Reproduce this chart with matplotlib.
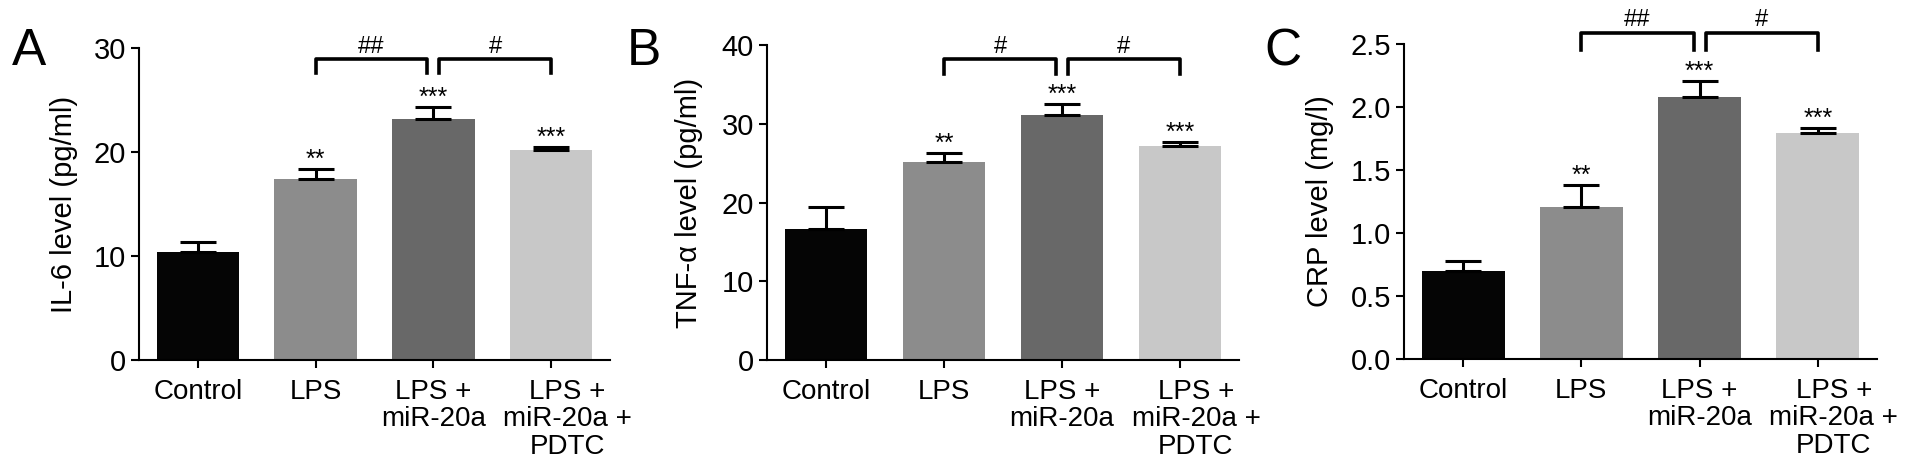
import matplotlib.pyplot as plt
import matplotlib.transforms as mtransforms
import numpy as np

plt.rcParams['font.family'] = ['Liberation Sans', 'DejaVu Sans']

groups = ['Control', 'LPS', 'LPS +\nmiR-20a', 'LPS +\nmiR-20a +\nPDTC']
bar_colors = ['#050505', '#8c8c8c', '#686868', '#c8c8c8']

il6_mean = [10.4, 17.4, 23.2, 20.2]
il6_err = [0.9, 1.0, 1.1, 0.3]
tnf_mean = [16.6, 25.1, 31.1, 27.2]
tnf_err = [2.8, 1.2, 1.4, 0.5]
crp_mean = [0.70, 1.21, 2.08, 1.79]
crp_err = [0.08, 0.17, 0.13, 0.04]

stars = ['', '**', '***', '***']
il6_hash = ['##', '#']
tnf_hash = ['#', '#']
crp_hash = ['##', '#']

panels = [
    # letter, ylabel, mean, err, hashes, ylim, yticks, fmt, bracket top, leg, axes rect (px)
    ('A', 'IL-6 level (pg/ml)', il6_mean, il6_err, il6_hash, 30, np.arange(0, 31, 10), '%d',
     28.95, 1.35, (139, 360, 471, 312), 12, 0.13),
    ('B', 'TNF-α level (pg/ml)', tnf_mean, tnf_err, tnf_hash, 40, np.arange(0, 41, 10), '%d',
     38.2, 1.9, (767, 360, 472, 315), 627, 0.135),
    ('C', 'CRP level (mg/l)', crp_mean, crp_err, crp_hash, 2.5, np.arange(0, 2.51, 0.5), '%.1f',
     2.59, 0.14, (1404, 359, 473, 315), 1264, 0.148),
]

W, H = 1930, 476
fig = plt.figure(figsize=(W / 100, H / 100), dpi=100)
shift = mtransforms.ScaledTranslation(0.16, 0, fig.dpi_scale_trans)

for (letter, ylab, mean, err, hashes, ytop, yt, fmt,
     btop, bleg, (px, py, pw, ph), lx, lab_off) in panels:
    ax = fig.add_axes([px / W, (H - py) / H, pw / W, ph / H])
    x = np.arange(len(groups))
    ax.bar(x, mean, 0.7, color=bar_colors,
           yerr=[np.zeros(len(err)), err],
           error_kw=dict(ecolor='black', elinewidth=2.2, capsize=13, capthick=2.2))
    ax.set_xlim(-0.5, 3.5)
    ax.set_ylim(0, ytop)
    ax.set_yticks(yt)
    ax.yaxis.set_major_formatter(plt.FormatStrFormatter(fmt))
    ax.set_xticks(x, groups, fontsize=20, linespacing=1.08)
    ax.tick_params(axis='y', labelsize=21, pad=4)
    ax.tick_params(axis='x', pad=8)
    ax.tick_params(direction='out', length=5.5, width=1.5, color='black')
    # last label sits a little right of its tick in the original
    last = ax.get_xticklabels()[-1]
    last.set_transform(last.get_transform() + shift)
    for s in ['top', 'right']:
        ax.spines[s].set_visible(False)
    for s in ['left', 'bottom']:
        ax.spines[s].set_linewidth(1.5)
    ax.set_ylabel(ylab, fontsize=21)
    ax.yaxis.set_label_coords(-lab_off, 0.5)

    for i in range(len(groups)):
        if stars[i]:
            ax.annotate(stars[i], xy=(x[i], mean[i] + err[i]), xytext=(0, 1.5),
                        textcoords='offset points', ha='center', va='baseline',
                        fontsize=18)

    spans = [(1.0, 1.95), (2.05, 3.0)]
    for (x1, x2), h in zip(spans, hashes):
        ax.plot([x1, x1, x2, x2], [btop - bleg, btop, btop, btop - bleg],
                color='black', lw=2.6, clip_on=False, solid_joinstyle='round')
        ax.annotate(h, xy=((x1 + x2) / 2, btop), xytext=(0, 4.5),
                    textcoords='offset points', ha='center', va='baseline',
                    fontsize=17, annotation_clip=False)

    fig.text(lx / W, 1 - 27 / H, letter, ha='left', va='top', fontsize=37)

fig.savefig('out.png', dpi=100)
